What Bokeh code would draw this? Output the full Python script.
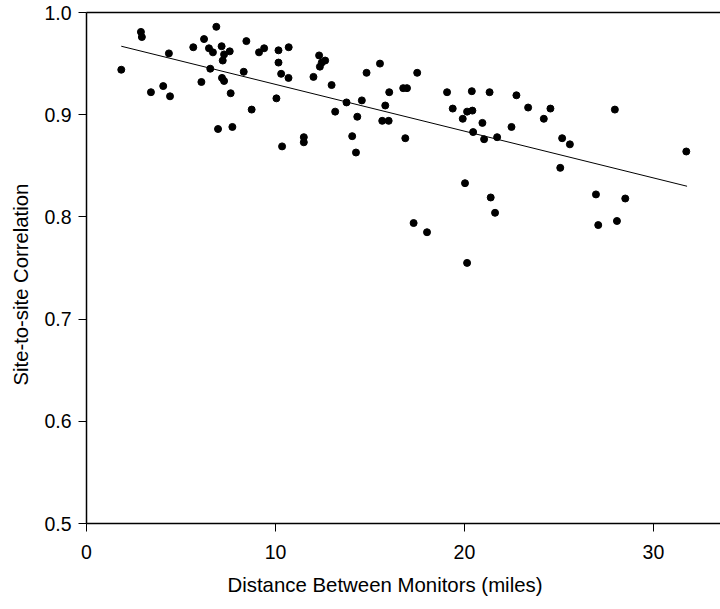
from bokeh.plotting import figure
from bokeh.models import LinearAxis, FixedTicker, Range1d, Title
from bokeh.embed import file_html
from bokeh.resources import INLINE

# --- data ---
distance = [1.84, 2.88, 2.93, 3.41, 4.06, 4.36, 4.42, 5.65, 6.08, 6.22, 6.87, 6.48, 6.69, 6.55,
            7.15, 7.28, 7.21, 7.58, 7.17, 7.28, 7.63, 6.96, 7.72, 8.46, 8.32, 8.74, 9.13, 9.40,
            10.05, 10.16, 10.16, 10.30, 10.69, 10.70, 10.35, 11.50, 11.50, 12.01, 12.31, 12.35,
            12.45, 12.63, 12.97, 13.16, 13.76, 14.06, 14.26, 14.33, 14.57, 14.82, 15.53, 15.81,
            15.65, 15.99, 16.02, 17.50, 16.76, 16.96, 16.87, 19.08, 19.38, 19.91, 20.14, 20.42,
            20.39, 21.33, 20.95, 20.46, 21.04, 21.73, 22.49, 22.75, 23.37, 24.20, 24.55, 25.17,
            25.58, 25.07, 27.96, 31.74, 20.03, 21.39, 21.62, 26.96, 28.51, 17.31, 18.02, 20.14,
            27.08, 28.07]
correlation = [0.944, 0.981, 0.976, 0.922, 0.928, 0.960, 0.918, 0.966, 0.932, 0.974, 0.986, 0.965,
               0.961, 0.945, 0.967, 0.959, 0.953, 0.962, 0.936, 0.933, 0.921, 0.886, 0.888, 0.972,
               0.942, 0.905, 0.961, 0.965, 0.916, 0.963, 0.951, 0.940, 0.936, 0.966, 0.869, 0.878,
               0.873, 0.937, 0.958, 0.947, 0.951, 0.953, 0.929, 0.903, 0.912, 0.879, 0.863, 0.898,
               0.914, 0.941, 0.950, 0.909, 0.894, 0.894, 0.922, 0.941, 0.926, 0.926, 0.877, 0.922,
               0.906, 0.896, 0.903, 0.904, 0.923, 0.922, 0.892, 0.883, 0.876, 0.878, 0.888, 0.919,
               0.907, 0.896, 0.906, 0.877, 0.871, 0.848, 0.905, 0.864, 0.833, 0.819, 0.804, 0.822,
               0.818, 0.794, 0.785, 0.755, 0.792, 0.796]

# fitted trend line endpoints as drawn in the reference
trend_x = [1.84, 31.78]
trend_y = [0.967, 0.830]

x_ticks = [0, 10, 20, 30]
y_ticks = [0.5, 0.6, 0.7, 0.8, 0.9, 1.0]
y_tick_labels = ["0.5", "0.6", "0.7", "0.8", "0.9", "1.0"]
x_title = "Distance Between Monitors (miles)"
y_title = "Site-to-site Correlation"

FONT = "Liberation Sans"

p = figure(width=720, height=609, output_backend="svg", toolbar_location=None,
           x_range=Range1d(0, 33.55), y_range=Range1d(0.5, 1.0),
           min_border_left=86, min_border_right=0, min_border_top=12, min_border_bottom=86)
p.outline_line_color = None
p.xgrid.visible = False
p.ygrid.visible = False
p.background_fill_color = "white"
p.border_fill_color = "white"

p.line(trend_x, trend_y, line_color="black", line_width=1)
p.scatter(distance, correlation, size=7, fill_color="black", line_color="black")

for ax in (p.xaxis[0], p.yaxis[0]):
    ax.axis_line_color = "black"
    ax.axis_line_width = 1.5
    ax.major_tick_line_color = "black"
    ax.major_tick_line_width = 1
    ax.major_tick_in = 0
    ax.major_tick_out = 8
    ax.minor_tick_line_color = None
    ax.major_label_text_font = FONT
    ax.major_label_text_font_size = "19.5px"
    ax.major_label_text_color = "black"

p.xaxis[0].ticker = FixedTicker(ticks=x_ticks)
p.xaxis[0].major_label_standoff = 13

p.yaxis[0].ticker = FixedTicker(ticks=y_ticks)
p.yaxis[0].major_label_overrides = {t: s for t, s in zip(y_ticks, y_tick_labels)}
p.yaxis[0].major_label_standoff = 7

top = LinearAxis(ticker=FixedTicker(ticks=[]), axis_line_color="black", axis_line_width=1.5,
                 major_tick_out=0, major_tick_in=0, minor_tick_out=0, minor_tick_in=0,
                 major_label_standoff=0, major_label_text_font_size="0px")
p.add_layout(top, "above")

# axis titles, placed off-centre as in the reference
xt = Title(text=x_title, align="right", offset=178, text_font=FONT, text_font_size="20.4px",
           text_font_style="normal", text_color="black", standoff=20, vertical_align="bottom")
yt = Title(text=y_title, align="left", offset=138, text_font=FONT, text_font_size="20.3px",
           text_font_style="normal", text_color="black", standoff=16, vertical_align="top")
p.add_layout(xt, "below")
p.add_layout(yt, "left")

open("out.html", "w").write(file_html(p, INLINE))
